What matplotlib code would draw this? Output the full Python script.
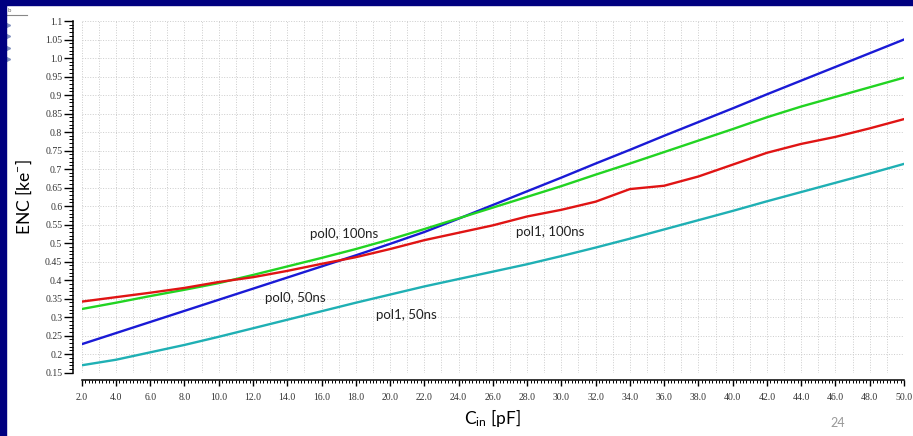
import numpy as np
import matplotlib
matplotlib.use('Agg')
import matplotlib.pyplot as plt
from matplotlib.patches import Rectangle
from matplotlib.lines import Line2D
from matplotlib.ticker import MultipleLocator, FixedLocator

# input capacitance [pF]
cin = [2, 4, 6, 8, 10, 12, 14, 16, 18, 20, 22, 24, 26,
       28, 30, 32, 34, 36, 38, 40, 42, 44, 46, 48, 50]

# ENC [ke-]
pol0_50ns = [0.227, 0.257, 0.287, 0.317, 0.347, 0.377, 0.407, 0.437, 0.467, 0.498, 0.530, 0.566, 0.603,
             0.640, 0.677, 0.715, 0.752, 0.790, 0.827, 0.864, 0.902, 0.939, 0.976, 1.013, 1.050]
pol0_100ns = [0.322, 0.339, 0.357, 0.374, 0.392, 0.414, 0.437, 0.460, 0.484, 0.510, 0.538, 0.567, 0.596,
              0.625, 0.654, 0.685, 0.715, 0.746, 0.777, 0.808, 0.840, 0.869, 0.895, 0.921, 0.947]
pol1_100ns = [0.342, 0.354, 0.366, 0.379, 0.395, 0.408, 0.425, 0.444, 0.462, 0.484, 0.508, 0.528, 0.548,
              0.572, 0.590, 0.612, 0.646, 0.655, 0.680, 0.712, 0.744, 0.768, 0.787, 0.810, 0.835]
pol1_50ns = [0.170, 0.185, 0.205, 0.225, 0.247, 0.270, 0.293, 0.316, 0.339, 0.361, 0.383, 0.403, 0.423,
             0.443, 0.465, 0.488, 0.512, 0.537, 0.562, 0.587, 0.613, 0.638, 0.663, 0.688, 0.714]

labels = ['pol0, 100ns', 'pol0, 50ns', 'pol1, 50ns', 'pol1, 100ns']
label_pos = [(15.3, 0.525), (12.7, 0.353), (19.2, 0.306), (27.35, 0.530)]

x_ticks = list(range(2, 51, 2))
y_ticks = [round(0.15 + 0.05 * i, 2) for i in range(20)]


def ylab(v):
    s = f"{v:.2f}".rstrip('0')
    return s + '0' if s.endswith('.') else s


fig = plt.figure(figsize=(9.13, 4.36), dpi=100)
fig.patch.set_facecolor('white')

# slide frame
fig.add_artist(Rectangle((0, 1 - 5 / 436), 1, 5 / 436, transform=fig.transFigure,
                         color='#000080', zorder=10))
fig.add_artist(Rectangle((0, 0), 6 / 913, 1, transform=fig.transFigure,
                         color='#000080', zorder=10))
fig.text(8 / 913, 1 - 11 / 436, 'b', fontsize=4, color='#666666', va='center')
fig.add_artist(Line2D([6 / 913, 27 / 913], [1 - 15 / 436, 1 - 15 / 436],
                      transform=fig.transFigure, color='#888888', lw=0.8))
for yy in [25, 36.5, 48, 59]:
    fig.add_artist(Line2D([7.5 / 913], [1 - yy / 436], transform=fig.transFigure,
                          marker='>', markersize=3, color='#8090c0', lw=0))

ax = fig.add_axes([0.0895, 0.1452, 0.9006, 0.8066])

ax.plot(cin, pol0_50ns, color='#1a1ad6', lw=1.7)
ax.plot(cin, pol0_100ns, color='#22d422', lw=1.7)
ax.plot(cin, pol1_100ns, color='#e01414', lw=1.7)
ax.plot(cin, pol1_50ns, color='#1fb0b4', lw=1.7)

for txt, (xx, yy) in zip(labels, label_pos):
    ax.text(xx, yy, txt, fontsize=9.5, family='Lato', color='#222222', va='center', ha='left')

ax.set_xlim(2, 50)
ax.set_ylim(0.15, 1.1)

# grid
ax.xaxis.set_major_locator(FixedLocator(x_ticks))
ax.yaxis.set_major_locator(FixedLocator(y_ticks))
ax.set_xticklabels([f"{v:.1f}" for v in x_ticks])
ax.set_yticklabels([ylab(v) for v in y_ticks])
ax.xaxis.set_minor_locator(MultipleLocator(0.2))
ax.yaxis.set_minor_locator(MultipleLocator(0.01))
ax.grid(True, which='major', color='#cccccc', ls=':', lw=0.7)
for g in np.arange(3, 50, 2):
    ax.axvline(g, color='#cccccc', ls=':', lw=0.7, zorder=0)
ax.set_axisbelow(True)

for s in ['top', 'right']:
    ax.spines[s].set_visible(False)
ax.spines['left'].set_position(('outward', 6))
ax.spines['bottom'].set_position(('outward', 5))
ax.spines['left'].set_linewidth(1.1)
ax.spines['bottom'].set_linewidth(1.1)

ax.tick_params(axis='y', which='major', length=6.5, width=1, pad=1.5,
               labelsize=7, labelcolor='#333333')
ax.tick_params(axis='y', which='minor', length=3, width=0.7)
ax.tick_params(axis='x', which='major', length=4.5, width=1, pad=5,
               labelsize=7, labelcolor='#333333')
ax.tick_params(axis='x', which='minor', length=2.2, width=0.7)
for lab in ax.get_xticklabels() + ax.get_yticklabels():
    lab.set_family('Liberation Serif')

ax.set_xlabel(r'C$\mathregular{_{in}}$ [pF]', fontsize=12.5, family='Lato', labelpad=4)
ax.set_ylabel(r'ENC [ke$\mathregular{^{-}}$]', fontsize=12.5, family='Lato', labelpad=8)

fig.text(838 / 913, 1 - 423 / 436, '24', fontsize=9, family='Lato', color='#999999',
         ha='center', va='center')

fig.savefig('out.png', dpi=100)
